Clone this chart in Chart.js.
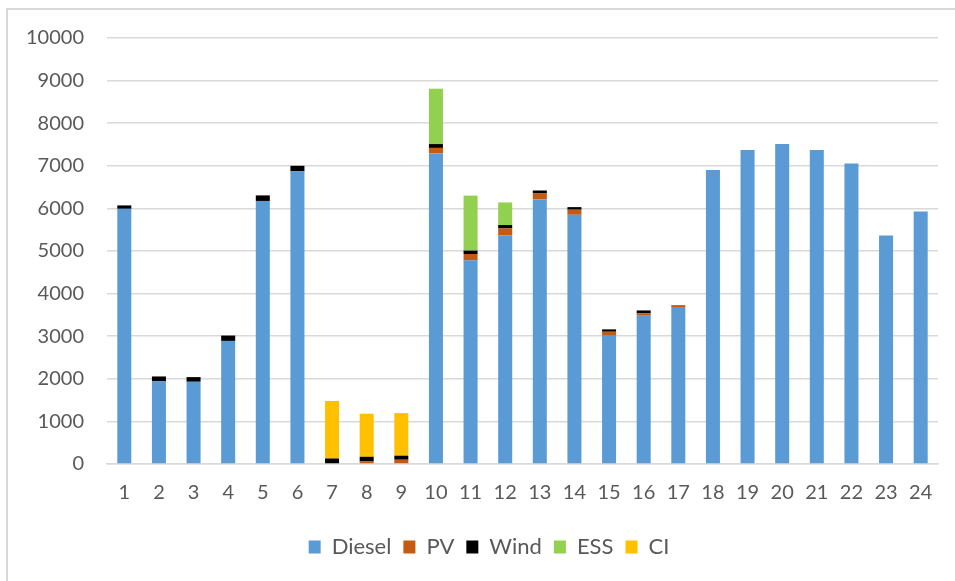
<!DOCTYPE html>
<html lang="en">
<head>
<meta charset="UTF-8">
<title>Chart</title>
<script src="https://cdn.jsdelivr.net/npm/chart.js"></script>
<style>
    html, body { margin: 0; padding: 0; background: #fff; }
    .frame {
        position: absolute; left: 6px; top: 8px; width: 960px; height: 590px;
        border-left: 2px solid #d9d9d9; border-top: 2px solid #d9d9d9;
    }
    .grafico { position: absolute; left: 0; top: 0; width: 955px; height: 581px; }
</style>
</head>
<body>
<div class="frame"></div>
<div class="grafico"><canvas id="myChart" width="955" height="581"></canvas></div>
<script>
// hora do dia
var horas = ['1','2','3','4','5','6','7','8','9','10','11','12','13','14','15','16','17','18','19','20','21','22','23','24'];

var diesel = [5990, 1940, 1930, 2890, 6175, 6870, 0, 0, 0, 7290, 4780, 5370, 6210, 5850, 3010, 3480, 3685, 6900, 7370, 7510, 7370, 7055, 5365, 5930];
var pv     = [0, 0, 0, 0, 0, 0, 0, 60, 100, 130, 150, 160, 140, 120, 95, 55, 45, 0, 0, 0, 0, 0, 0, 0];
var wind   = [80, 115, 110, 125, 130, 130, 130, 110, 95, 90, 80, 80, 70, 60, 55, 70, 0, 0, 0, 0, 0, 0, 0, 0];
var ess    = [0, 0, 0, 0, 0, 0, 0, 0, 0, 1300, 1290, 530, 0, 0, 0, 0, 0, 0, 0, 0, 0, 0, 0, 0];
var ci     = [0, 0, 0, 0, 0, 0, 1350, 1010, 1000, 0, 0, 0, 0, 0, 0, 0, 0, 0, 0, 0, 0, 0, 0, 0];

var fonte = "Lato, 'Open Sans', sans-serif";
var cinza = '#595959';

function serie(nome, dados, cor) {
    return {
        label: nome,
        data: dados,
        backgroundColor: cor,
        borderWidth: 0,
        stack: 'total',
        barPercentage: 0.405,
        categoryPercentage: 1.0
    };
}

// empurra a legenda um pouco para a direita, como no original
var moveLegenda = {
    id: 'moveLegenda',
    afterLayout: function (chart) {
        chart.legend.left += 40;
    }
};

var ctx = document.getElementById('myChart').getContext('2d');

var myChart = new Chart(ctx, {
    type: 'bar',
    data: {
        labels: horas,
        datasets: [
            serie('Diesel', diesel, '#5b9bd5'),
            serie('PV', pv, '#c55a11'),
            serie('Wind', wind, '#000000'),
            serie('ESS', ess, '#92d050'),
            serie('CI', ci, '#ffc000')
        ]
    },
    plugins: [moveLegenda],
    options: {
        responsive: false,
        animation: false,
        layout: { padding: { top: 38, right: 17, bottom: 13, left: 0 } },
        plugins: {
            tooltip: { enabled: false },
            legend: {
                position: 'bottom',
                labels: {
                    color: cinza,
                    font: { family: fonte, size: 22 },
                    boxWidth: 12,
                    boxHeight: 13,
                    padding: 12
                }
            }
        },
        scales: {
            x: {
                stacked: true,
                afterFit: function (escala) { escala.height += 2; },
                grid: { display: false, drawTicks: false },
                border: { color: '#d9d9d9', width: 1.5 },
                ticks: { color: cinza, font: { family: fonte, size: 20 }, padding: 17, maxRotation: 0, autoSkip: false }
            },
            y: {
                stacked: true,
                min: 0,
                max: 10000,
                afterFit: function (escala) { escala.width = 107; },
                grid: { color: '#d9d9d9', lineWidth: 1.5, drawTicks: false },
                border: { display: false },
                ticks: {
                    stepSize: 1000, color: cinza, font: { family: fonte, size: 20 }, padding: 23,
                    callback: function (v) { return String(v); }
                }
            }
        }
    }
});
</script>
</body>
</html>
